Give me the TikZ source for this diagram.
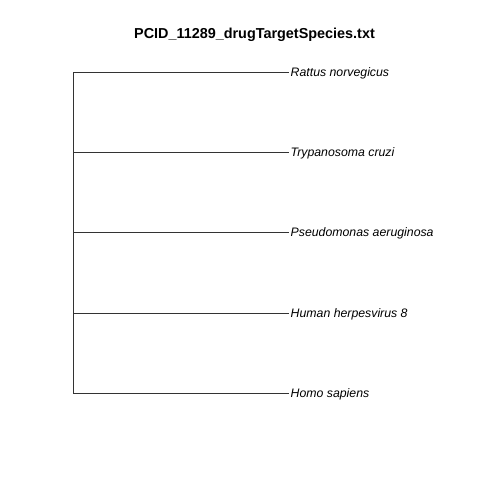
\documentclass[tikz,border=0pt]{standalone}
\usepackage{fontspec}
\setmainfont{Liberation Sans}
\begin{document}
\begin{tikzpicture}[x=1pt,y=-1pt,
  edge/.style={draw=black!80,line width=0.6pt},
  leaf/.style={anchor=base west,inner sep=0pt,font=\fontsize{12.3}{14}\selectfont\itshape},
  ttl/.style={anchor=base,inner sep=0pt,font=\fontsize{14.4}{16}\selectfont\bfseries}]
\useasboundingbox[fill=white] (0,0) rectangle (480,480);
\node[ttl] (title) at (254.5,38) {PCID\_11289\_drugTargetSpecies.txt};
\coordinate (root1) at (73,72);
\coordinate (root5) at (73,393);
\coordinate (r2) at (73,152);
\coordinate (r3) at (73,232.5);
\coordinate (r4) at (73,313);
\coordinate (e1) at (288.5,72);
\coordinate (e2) at (288.5,152);
\coordinate (e3) at (288.5,232.5);
\coordinate (e4) at (288.5,313);
\coordinate (e5) at (288.5,393);
\node[leaf] (l1) at (290.5,76.3) {Rattus norvegicus};
\node[leaf] (l2) at (290.5,156.3) {Trypanosoma cruzi};
\node[leaf] (l3) at (290.5,236.8) {Pseudomonas aeruginosa};
\node[leaf] (l4) at (290.5,317.3) {Human herpesvirus 8};
\node[leaf] (l5) at (290.5,397.3) {Homo sapiens};
\draw[edge] (root1) -- (root5);
\draw[edge] (root1) -- (e1);
\draw[edge] (r2) -- (e2);
\draw[edge] (r3) -- (e3);
\draw[edge] (r4) -- (e4);
\draw[edge] (root5) -- (e5);
\end{tikzpicture}
\end{document}
